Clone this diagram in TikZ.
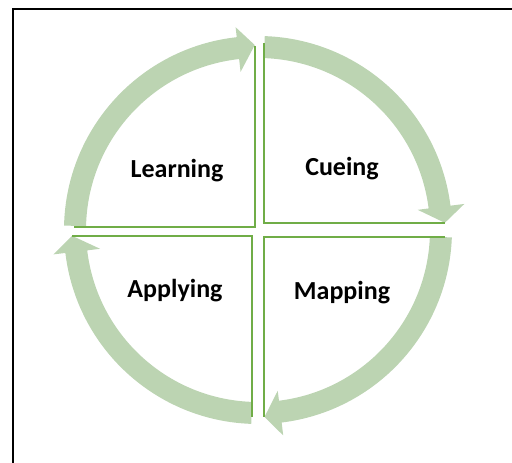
\documentclass[tikz,border=0pt]{standalone}
\usepackage{fontspec}
\setmainfont{Carlito}
\definecolor{bandgreen}{RGB}{188,212,178}
\definecolor{edgegreen}{RGB}{112,173,71}
\tikzset{
  band/.style={fill=bandgreen},
  edge/.style={draw=edgegreen, line width=1.8pt},
  label/.style={anchor=base, font=\bfseries\fontsize{26}{30}\selectfont}
}

\begin{document}
\begin{tikzpicture}[x=1pt,y=1pt]
    \useasboundingbox (0,0) rectangle (512,463);
    % Draw the frame
    \draw[line width=2pt] (13,0) -- (13,454) -- (512,454);
    % Draw the arrows round the circle
    \begin{scope}[shift={(258,233)}]
        \fill[band] (178.7:194) arc[start angle=178.7, end angle=96.3, radius=194] -- (96.3:204) -- (91:185) -- (96.3:159) -- (96.3:172) arc[start angle=96.3, end angle=178.7, radius=172] -- cycle;
        \fill[band] (88:194) arc[start angle=88, end angle=7.2, radius=194] -- (7.2:208) -- (2.2:187) -- (7.2:161) -- (7.2:172) arc[start angle=7.2, end angle=88, radius=172] -- cycle;
        \fill[band] (-2.2:194) arc[start angle=-2.2, end angle=-83, radius=194] -- (-83:207) -- (-88:187) -- (-83:162) -- (-83:172) arc[start angle=-83, end angle=-2.2, radius=172] -- cycle;
        \fill[band] (268:194) arc[start angle=268, end angle=186.8, radius=194] -- (186.8:206) -- (181.8:186) -- (186.8:159) -- (186.8:172) arc[start angle=186.8, end angle=268, radius=172] -- cycle;
    \end{scope}
    % Draw the quadrant edges
    \draw[edge] (255,417) -- (255,236) -- (74,236);
    \draw[edge] (264,420) -- (264,240) -- (445,240);
    \draw[edge] (445,226) -- (264,226) -- (264,46);
    \draw[edge] (72,227) -- (252,227) -- (252,46);
    % Add the labels
    \node[label] (learning) at (177,285) {Learning};
    \node[label] (cueing) at (342,287) {Cueing};
    \node[label] (applying) at (175,165) {Applying};
    \node[label] (mapping) at (342,163) {Mapping};
\end{tikzpicture}
\end{document}
